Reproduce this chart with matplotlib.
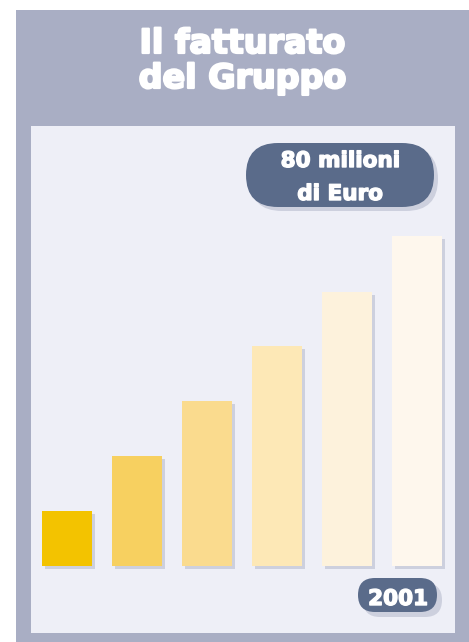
import matplotlib
matplotlib.use("Agg")
import matplotlib.pyplot as plt
from matplotlib.patches import Rectangle, FancyBboxPatch
import matplotlib.transforms as mtransforms
import matplotlib.patheffects as pe

# ---- data ----
years = ["1996", "1997", "1998", "1999", "2000", "2001"]
values = [13.3, 26.7, 40.0, 53.3, 66.4, 80.0]   # milioni di Euro
bar_colors = ["#f3c300", "#f7d060", "#fadb8e", "#fde8b6", "#fdf2dc", "#fef7ed"]
title_lines = ["Il fatturato", "del Gruppo"]
badge_lines = ["80 milioni", "di Euro"]
year_badge = "2001"

W, H = 469, 642
DPI = 100
fig = plt.figure(figsize=(W / DPI, H / DPI), dpi=DPI)
fig.patch.set_facecolor("white")

bg = fig.add_axes([0, 0, 1, 1])
bg.set_xlim(0, W)
bg.set_ylim(H, 0)
bg.axis("off")

OUTER = "#a9aec4"
INNER = "#eeeff7"
PILL = "#5a6b8a"
SHADOW = "#cdd0de"

bg.add_patch(Rectangle((16, 10), W - 16, H - 10, facecolor=OUTER, edgecolor="none"))
bg.add_patch(Rectangle((31, 126), 455 - 31, 633 - 126, facecolor=INNER, edgecolor="none"))

FONT = ["DejaVu Sans"]
heavy = [pe.withStroke(linewidth=1.6, foreground="white")]
heavy_s = [pe.withStroke(linewidth=1.0, foreground="white")]

bg.text(242.5, 53, title_lines[0], color="white", fontsize=24, fontweight="bold",
        family=FONT, ha="center", va="baseline", path_effects=heavy)
bg.text(242.5, 88, title_lines[1], color="white", fontsize=24, fontweight="bold",
        family=FONT, ha="center", va="baseline", path_effects=heavy)

def pill(x0, y0, x1, y1, off):
    h = y1 - y0
    r = h / 2
    for dx, col in ((off, SHADOW), (0, PILL)):
        bg.add_patch(FancyBboxPatch((x0 + dx, y0 + dx), (x1 - x0), h,
                                    boxstyle=f"round,pad=0,rounding_size={r}",
                                    facecolor=col, edgecolor="none"))

pill(246, 143, 434, 207, 4)
bg.text(340, 167, badge_lines[0], color="white", fontsize=15.5, fontweight="bold",
        family=FONT, ha="center", va="baseline", path_effects=heavy_s)
bg.text(340, 200, badge_lines[1], color="white", fontsize=15.5, fontweight="bold",
        family=FONT, ha="center", va="baseline", path_effects=heavy_s)

pill(358, 578, 437, 612, 5)
bg.text(398, 605, year_badge, color="white", fontsize=15.5, fontweight="bold",
        family=FONT, ha="center", va="baseline", path_effects=heavy_s)

# ---- bar axes ----
ax_left, ax_right = 32, 452
y_bottom, y_top = 566, 236
ax = fig.add_axes([ax_left / W, (H - y_bottom) / H, (ax_right - ax_left) / W,
                   (y_bottom - y_top) / H])
ax.set_xlim(-0.5, len(values) - 0.5)
ax.set_ylim(0, max(values))
ax.axis("off")
ax.patch.set_alpha(0)

x = list(range(len(values)))
shadow_tr = mtransforms.offset_copy(ax.transData, fig=fig, x=3, y=-3, units="dots")
ax.bar(x, values, width=50 / 70, color=SHADOW, transform=shadow_tr, zorder=1,
       clip_on=False)
ax.bar(x, values, width=50 / 70, color=bar_colors, zorder=2, clip_on=False)

fig.savefig("out.png", dpi=DPI, facecolor=fig.get_facecolor())
